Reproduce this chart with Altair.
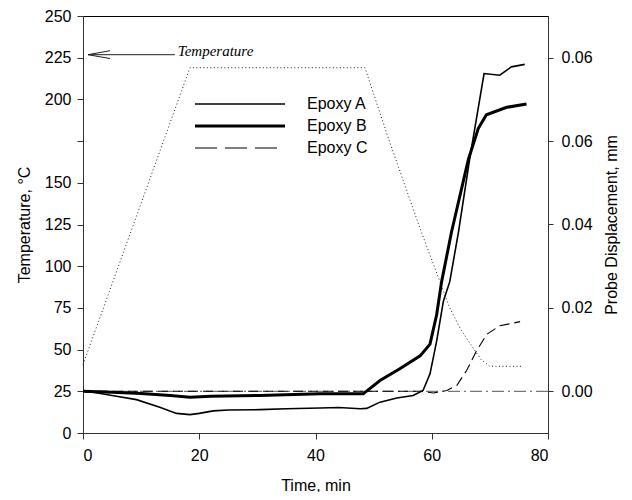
import altair as alt
import pandas as pd

# Temperature programme (left axis, °C)
time_temp = [0, 18.4, 48.5, 52.8, 58, 63.1, 65, 67.1, 68.5, 70, 75.5]
temp_vals = [41, 219, 219, 174, 122.5, 75, 62, 51, 44, 40, 40]

# Probe displacement (right axis, mm)
time_a = [0, 2, 5, 9.2, 13.2, 16.1, 18.4, 20, 22.4, 25, 30.4, 35, 40.8, 44, 47.7, 48.8,
          51.1, 54, 56.8, 58.5, 59.7, 60.85, 62, 63.1, 64.6, 66.6, 69, 71.7, 73.7, 76]
disp_a = [0.0, -0.0003, -0.001, -0.002, -0.0038, -0.0053, -0.0056, -0.0053, -0.0047, -0.0045,
          -0.0044, -0.0042, -0.004, -0.0039, -0.0042, -0.0041, -0.0026, -0.0016, -0.001, 0.0002,
          0.0042, 0.0121, 0.0216, 0.0263, 0.0382, 0.0564, 0.0762, 0.0758, 0.0778, 0.0784]

time_b = [0, 5, 10, 15, 18.4, 22, 30.4, 40.8, 48.2, 51.1, 54.5, 58, 59.7, 60.85, 61.7,
          63.4, 66.3, 68, 69.4, 72.9, 76.3]
disp_b = [0.0, -0.0002, -0.0005, -0.001, -0.0014, -0.0012, -0.001, -0.0006, -0.0006, 0.0026,
          0.0054, 0.0085, 0.0113, 0.0184, 0.0263, 0.0382, 0.0556, 0.063, 0.0663, 0.0681, 0.0689]

time_c = [0, 20, 40, 58, 60.3, 62.6, 64.3, 66, 67.7, 69.5, 71.7, 75.2]
disp_c = [0.0, 0.0, 0.0, 0.0, -0.0004, 0.0002, 0.0014, 0.005, 0.0097, 0.0137, 0.0157, 0.0167]

series_names = ["Epoxy A", "Epoxy B", "Epoxy C"]

# Annotation arrow ("Temperature" label pointing to left axis)
arrow_time = [4.65, 0.86, 4.65, 0.86, 15.8]
arrow_temp = [229.2, 226.8, 224.5, 226.8, 226.8]
arrow_part = ["head", "head", "head", "shaft", "shaft"]
label_time = [16.3]
label_temp = [229]
label_text = ["Temperature"]

FONT = "Liberation Sans"

temp_df = pd.DataFrame({"time": time_temp, "temp": temp_vals})
arrow_df = pd.DataFrame({"time": arrow_time, "temp": arrow_temp, "part": arrow_part,
                         "i": list(range(len(arrow_time)))})
label_df = pd.DataFrame({"time": label_time, "temp": label_temp, "text": label_text})
zero_df = pd.DataFrame({"disp": [0.0]})

x_scale = alt.Scale(domain=[0, 80], nice=False, zero=False)
x_axis = alt.Axis(values=[0, 20, 40, 60, 80], title="Time, min", format="d",
                  labelPadding=8, titlePadding=14)
t_scale = alt.Scale(domain=[0, 250], nice=False, zero=False)
t_axis = alt.Axis(orient="left", values=list(range(0, 251, 25)), title="Temperature, °C",
                  labelExpr="datum.value == 175 ? '' : datum.label", titlePadding=12)
d_scale = alt.Scale(domain=[-0.01, 0.09], nice=False, zero=False)
d_axis = alt.Axis(orient="right", values=[0, 0.02, 0.04, 0.06, 0.08],
                  title="Probe Displacement, mm",
                  labelExpr="datum.value > 0.07 ? '0.06' : format(datum.value, '.2f')",
                  titleAngle=270, titlePadding=27, tickSize=5, labelPadding=8)

X = alt.X("time:Q", scale=x_scale, axis=x_axis)

temp_line = alt.Chart(temp_df).mark_line(color="#222", strokeWidth=1, strokeDash=[1, 2.5]).encode(
    x=X, y=alt.Y("temp:Q", scale=t_scale, axis=t_axis))
arrow = alt.Chart(arrow_df).mark_line(color="#222", strokeWidth=1).encode(
    x=alt.X("time:Q", scale=x_scale), y=alt.Y("temp:Q", scale=t_scale),
    detail="part:N", order="i:Q")
label = alt.Chart(label_df).mark_text(font="Liberation Serif", fontStyle="italic", fontSize=15,
                                      align="left", baseline="middle", color="black").encode(
    x=alt.X("time:Q", scale=x_scale), y=alt.Y("temp:Q", scale=t_scale), text="text:N")
temp_group = alt.layer(temp_line, arrow, label)

styles = {"Epoxy A": dict(strokeWidth=1.6),
          "Epoxy B": dict(strokeWidth=3),
          "Epoxy C": dict(strokeWidth=1.1, strokeDash=[10, 5])}
legend_dash = {"Epoxy C": [22, 8]}

zero_line = alt.Chart(zero_df).mark_rule(color="#777", strokeWidth=1.2,
                                         strokeDash=[12, 4, 2, 4]).encode(
    y=alt.Y("disp:Q", scale=d_scale, axis=d_axis))
disp_layers = [zero_line]
for name, ts, ds in zip(series_names, [time_a, time_b, time_c], [disp_a, disp_b, disp_c]):
    df = pd.DataFrame({"time": ts, "disp": ds, "i": list(range(len(ts)))})
    disp_layers.append(alt.Chart(df).mark_line(color="black", **styles[name]).encode(
        x=alt.X("time:Q", scale=x_scale),
        y=alt.Y("disp:Q", scale=d_scale, axis=d_axis),
        order="i:Q"))
disp_group = alt.layer(*disp_layers)

# Legend (drawn in the plot area, top-left)
leg_rows = [88, 110, 132]
leg_layers = []
for name, yp in zip(series_names, leg_rows):
    st = dict(styles[name])
    if name in legend_dash:
        st["strokeDash"] = legend_dash[name]
    ldf = pd.DataFrame({"series": [name], "yp": [yp]})
    leg_layers.append(alt.Chart(ldf).mark_rule(color="black", **st).encode(
        x=alt.value(112), x2=alt.value(202), y=alt.Y("yp:Q", scale=None, axis=None)))
leg_text_df = pd.DataFrame({"series": series_names, "yp": leg_rows})
leg_layers.append(alt.Chart(leg_text_df).mark_text(font=FONT, fontSize=16, align="left",
                                                    baseline="middle", color="black").encode(
    x=alt.value(224), y=alt.Y("yp:Q", scale=None, axis=None), text="series:N"))
legend_group = alt.layer(*leg_layers)

chart = alt.layer(temp_group, disp_group, legend_group).resolve_scale(y="independent").properties(
    width=465, height=417,
    padding={"left": 75, "top": 8, "right": 76, "bottom": 59},
    autosize=alt.AutoSizeParams(type="none"),
).configure_view(stroke="black", strokeWidth=1).configure_axis(
    grid=False, domainColor="#333", tickColor="#333", tickSize=6, labelPadding=6,
    labelFont=FONT, labelFontSize=16, labelColor="black",
    titleFont=FONT, titleFontSize=16, titleFontWeight="normal", titleColor="black",
)

chart.save("out.html", embed_options={"renderer": "svg", "actions": False})
